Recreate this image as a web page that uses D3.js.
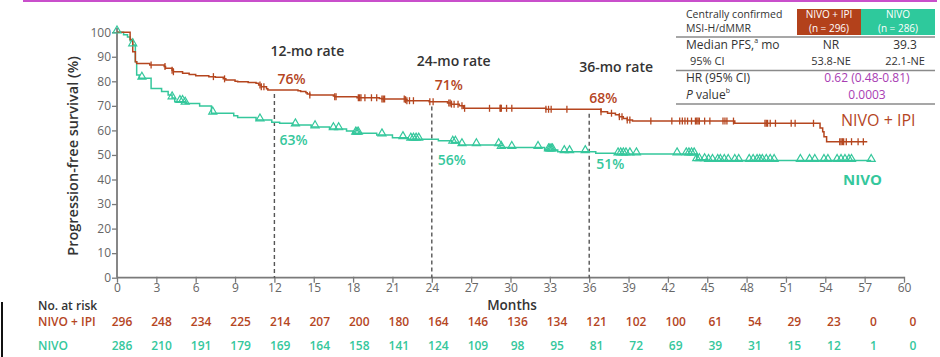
<!DOCTYPE html>
<html><head><meta charset="utf-8">
<script src="https://cdn.jsdelivr.net/npm/d3@7"></script>
<style>
body{margin:0;background:#fff;}
svg{display:block;font-family:"Open Sans","Noto Sans",sans-serif;}
</style></head>
<body><svg id="c" width="940" height="357"></svg>
<script>
// ---------- DATA ----------
const xTicks = d3.range(0, 61, 3);
const yTicks = d3.range(0, 101, 10);

const ipiTimes = [0,1.0,1.2,1.4,1.5,2.5,3.6,3.7,4.2,4.3,5.0,5.5,6.0,7.0,7.5,8.1,8.3,9.0,9.2,10.0,10.6,10.8,11.0,11.4,11.5,13.8,14.0,14.4,14.5,14.7,16.5,16.6,18.3,20.0,20.2,22.0,22.1,23.8,25.2,25.5,26.1,26.4,32.7,36.9,37.4,38.0,38.3,38.6,38.9,39.3,47.1,53.6,53.8,53.9,54.1,57.2];
const ipiSurv  = [100,97,92,88,87.3,86.6,86.0,85.3,84.5,83.9,83.3,82.8,82.3,81.9,81.6,81.0,80.5,80.0,79.8,79.5,79.2,78.5,77.8,77.0,76.5,76.2,75.8,75.3,74.8,74.4,74.0,73.7,73.3,73.0,72.8,72.5,72.1,71.7,71.2,70.7,70.0,69.0,68.6,67.6,67.0,66.4,65.6,64.8,64.2,63.8,62.9,61.0,59.5,57.4,55.4,55.4];
const ipiCensor = [2.6,3.66,4.2,4.3,7.35,8.2,10.9,11.0,11.2,14.7,16.6,16.7,18.4,18.5,18.6,18.9,19.4,19.8,20.2,20.3,20.4,21.9,22.0,22.1,22.3,22.6,23.85,24.1,25.3,25.4,25.5,25.7,26.0,26.3,26.5,28.4,29.2,29.25,29.3,29.7,30.1,32.7,32.9,33.1,34.3,36.9,37.7,38.3,38.5,38.9,39.1,40.7,42.3,42.9,43.1,43.3,43.5,43.8,44.1,44.2,44.3,44.4,44.8,45.2,46.2,46.35,46.5,47.0,49.4,49.5,49.6,49.8,50.2,51.4,51.7,53.1,55.1,55.2,55.3,55.4,55.6,56.0,56.5,56.9];

const nivoTimes = [0,0.5,0.8,1.0,1.2,1.4,1.5,1.7,2.6,3.4,3.9,4.2,4.4,5.2,6.3,7.2,8.9,9.2,10.6,11.8,12.4,13.4,14.8,16.2,17.5,18.0,19.8,21.0,22.2,24.5,25.5,26.1,29.2,32.6,33.6,36.5,38.0,44.2,45.0,57.5];
const nivoSurv  = [100,99,98,96.5,94.8,88,82.6,81.2,77.1,75.8,74.4,73.2,71.7,71.0,69.9,67.0,66.0,65.3,64.2,63.3,62.9,62.2,61.4,60.6,59.8,58.8,58.1,57.0,56.4,55.8,55.1,54.1,53.0,52.0,51.3,50.7,50.4,48.0,47.7,47.7];
const nivoCensor = [0.0,1.2,1.9,4.2,4.8,5.0,5.2,7.3,10.9,13.6,15.1,16.5,16.9,18.2,18.3,18.4,20.2,21.8,22.4,22.6,22.8,23.0,25.6,25.8,26.3,27.4,29.1,29.3,30.1,32.1,32.9,33.0,33.1,33.2,34.1,34.5,35.7,38.2,38.4,38.6,38.8,39.1,39.6,42.7,43.4,43.6,43.8,44.0,44.2,44.4,44.8,45.1,45.4,45.8,46.0,46.3,46.6,47.1,47.4,48.2,48.5,48.8,49.0,49.2,49.5,49.8,50.1,52.1,52.8,53.2,53.9,54.2,54.9,55.2,55.5,55.8,56.0,57.5];

const rateMonths = [12, 24, 36];
const ipiRates = [76, 71, 68];
const nivoRates = [63, 56, 51];

const riskIpi  = [296,248,234,225,214,207,200,180,164,146,136,134,121,102,100,61,54,29,23,0,0];
const riskNivo = [286,210,191,179,169,164,158,141,124,109,98,95,81,72,69,39,31,15,12,1,0];

// ---------- STYLE ----------
const RED = "#b5461f", TEAL = "#35c79c", PURPLE = "#a83db3", DARK = "#333", GRAY = "#666", AX = "#7a7a7a";

const svg = d3.select("#c");
const x = d3.scaleLinear().domain([0, 60]).range([117, 904]);
const y = d3.scaleLinear().domain([0, 100]).range([277.7, 32.2]);

// top magenta rule & left artifact
svg.append("rect").attr("x", 23).attr("y", 0).attr("width", 914).attr("height", 2).attr("fill", "#c94fcb");
svg.append("rect").attr("x", 1).attr("y", 302).attr("width", 2).attr("height", 55).attr("fill", "#111");

// axes
const gx = svg.append("g").attr("transform", `translate(0,${y(0)})`)
  .call(d3.axisBottom(x).tickValues(xTicks).tickSize(5).tickPadding(1));
const gy = svg.append("g").attr("transform", `translate(${x(0)},0)`)
  .call(d3.axisLeft(y).tickValues(yTicks).tickSize(5).tickPadding(1));
[gx, gy].forEach(g => {
  g.select(".domain").remove();
  g.selectAll("line").attr("stroke", AX).attr("stroke-width", 1.3);
  g.selectAll("text").attr("fill", GRAY).style("font-size", "12px").style("font-family", "'Open Sans',sans-serif");
});
gx.selectAll("line").attr("y1", -1).attr("y2", 5);
svg.append("line").attr("x1", x(0)).attr("x2", x(60)).attr("y1", y(0)).attr("y2", y(0)).attr("stroke", AX).attr("stroke-width", 1.8);
svg.append("line").attr("x1", x(0)).attr("x2", x(0)).attr("y1", y(0)).attr("y2", 28).attr("stroke", AX).attr("stroke-width", 1.8);

// axis titles
svg.append("text").attr("transform", `translate(74,${156}) rotate(-90)`).attr("text-anchor", "middle")
  .attr("dominant-baseline", "middle").attr("fill", DARK).style("font-size", "14.5px").style("font-weight", 600)
  .text("Progression-free survival (%)");
svg.append("text").attr("x", 512).attr("y", 306).attr("text-anchor", "middle").attr("dominant-baseline", "middle")
  .attr("fill", DARK).style("font-size", "13.5px").style("font-weight", 600).text("Months");

// dashed rate lines
function survAt(times, surv, t) { const i = d3.bisectRight(times, t) - 1; return surv[Math.max(0, i)]; }
rateMonths.forEach((m, i) => {
  svg.append("line").attr("x1", x(m)).attr("x2", x(m)).attr("y1", y(ipiRates[i]) + 3).attr("y2", y(0))
    .attr("stroke", "#555").attr("stroke-width", 1.4).attr("stroke-dasharray", "4,3");
});

// curves
const line = d3.line().x(d => x(d[0])).y(d => y(d[1])).curve(d3.curveStepAfter);
function drawCurve(times, surv, color) {
  svg.append("path").datum(times.map((t, i) => [t, surv[i]])).attr("d", line)
    .attr("fill", "none").attr("stroke", color).attr("stroke-width", 1.5);
}
drawCurve(nivoTimes, nivoSurv, TEAL);
drawCurve(ipiTimes, ipiSurv, RED);

// censor marks
svg.append("g").selectAll("line").data(ipiCensor).join("line")
  .attr("x1", d => x(d)).attr("x2", d => x(d))
  .attr("y1", d => y(survAt(ipiTimes, ipiSurv, d)) - 3.5).attr("y2", d => y(survAt(ipiTimes, ipiSurv, d)) + 3.5)
  .attr("stroke", RED).attr("stroke-width", 1.3);
const tri = d3.symbol().type(d3.symbolTriangle).size(28);
svg.append("g").selectAll("path").data(nivoCensor).join("path")
  .attr("d", tri).attr("transform", d => `translate(${x(d)},${y(survAt(nivoTimes, nivoSurv, d)) - 1.5})`)
  .attr("fill", "none").attr("stroke", TEAL).attr("stroke-width", 1.2);

// rate annotations
const rateLbl = [[-4, 52], [-15, 62], [-10, 68]];
rateMonths.forEach((m, i) => {
  svg.append("text").attr("x", x(m) + rateLbl[i][0]).attr("y", rateLbl[i][1]).attr("dominant-baseline", "middle")
    .attr("fill", DARK).style("font-size", "14px").style("font-weight", 600).text(`${m}-mo rate`);
});
const ipiLbl = [[3, 80], [3, 86], [0, 99]];
const nivoLbl = [[5, 141], [6, 161], [7, 165]];
rateMonths.forEach((m, i) => {
  svg.append("text").attr("x", x(m) + ipiLbl[i][0]).attr("y", ipiLbl[i][1]).attr("dominant-baseline", "middle")
    .attr("fill", RED).style("font-size", "14px").style("font-weight", 600).text(`${ipiRates[i]}%`);
  svg.append("text").attr("x", x(m) + nivoLbl[i][0]).attr("y", nivoLbl[i][1]).attr("dominant-baseline", "middle")
    .attr("fill", TEAL).style("font-size", "14px").style("font-weight", 600).text(`${nivoRates[i]}%`);
});

// curve labels
svg.append("text").attr("x", 841).attr("y", 122).attr("dominant-baseline", "middle").attr("fill", RED)
  .style("font-size", "16px").style("font-weight", 500).text("NIVO + IPI");
svg.append("text").attr("x", 843).attr("y", 181).attr("dominant-baseline", "middle").attr("fill", TEAL)
  .style("font-size", "15px").style("font-weight", 700).text("NIVO");

// risk table
svg.append("text").attr("x", 38).attr("y", 307).attr("dominant-baseline", "middle").attr("fill", DARK)
  .style("font-size", "12px").style("font-weight", 600).text("No. at risk");
[["NIVO + IPI", riskIpi, RED, 323], ["NIVO", riskNivo, TEAL, 347]].forEach(([lbl, arr, col, yy]) => {
  svg.append("text").attr("x", 38).attr("y", yy).attr("dominant-baseline", "middle").attr("fill", col)
    .style("font-size", "12px").style("font-weight", 600).text(lbl);
  svg.append("g").selectAll("text").data(arr).join("text")
    .attr("x", (d, i) => x(xTicks[i]) + 5 + i * 0.2).attr("y", yy).attr("text-anchor", "middle").attr("dominant-baseline", "middle")
    .attr("fill", col).style("font-size", "12px").style("font-weight", 600).text(d => d);
});

// stats table
const T = svg.append("g");
T.append("rect").attr("x", 797).attr("y", 9).attr("width", 64).attr("height", 26).attr("fill", "#b3411b");
T.append("rect").attr("x", 861).attr("y", 9).attr("width", 74).attr("height", 26).attr("fill", "#2ec99c");
function tt(txt, xx, yy, opts = {}) {
  const t = T.append("text").attr("x", xx).attr("y", yy).attr("dominant-baseline", "middle")
    .attr("text-anchor", opts.anchor || "start").attr("fill", opts.fill || DARK)
    .style("font-size", (opts.size || 12) + "px").style("font-weight", opts.weight || 400);
  t.text(txt);
  return t;
}
tt("Centrally confirmed", 686, 15.5, {size: 10.5});
tt("MSI-H/dMMR", 686, 29.5, {size: 10.5});
tt("NIVO + IPI", 829, 15.5, {anchor: "middle", fill: "#fff", size: 10, weight: 500});
tt("(n = 296)", 829, 29, {anchor: "middle", fill: "#fff", size: 10, weight: 500});
tt("NIVO", 898, 15.5, {anchor: "middle", fill: "#fff", size: 10, weight: 500});
tt("(n = 286)", 898, 29, {anchor: "middle", fill: "#fff", size: 10, weight: 500});
[37, 70.5, 104].forEach(yy => T.append("line").attr("x1", 676).attr("x2", 935).attr("y1", yy).attr("y2", yy)
  .attr("stroke", "#8a8a8a").attr("stroke-width", 1.5));
const med = tt("Median PFS,", 686, 45.5);
med.append("tspan").attr("baseline-shift", "super").style("font-size", "7px").text("a");
med.append("tspan").text(" mo");
tt("NR", 831, 45.5, {anchor: "middle"});
tt("39.3", 905, 45.5, {anchor: "middle"});
tt("95% CI", 690, 62, {size: 11});
tt("53.8-NE", 831, 62, {anchor: "middle", size: 11});
tt("22.1-NE", 905, 62, {anchor: "middle", size: 11});
tt("HR (95% CI)", 686, 79);
tt("0.62 (0.48-0.81)", 867, 79, {anchor: "middle", fill: PURPLE});
const pv = tt("", 686, 96);
pv.append("tspan").style("font-style", "italic").text("P");
pv.append("tspan").text(" value");
pv.append("tspan").attr("baseline-shift", "super").style("font-size", "7px").text("b");
tt("0.0003", 867, 96, {anchor: "middle", fill: PURPLE});
</script></body></html>
